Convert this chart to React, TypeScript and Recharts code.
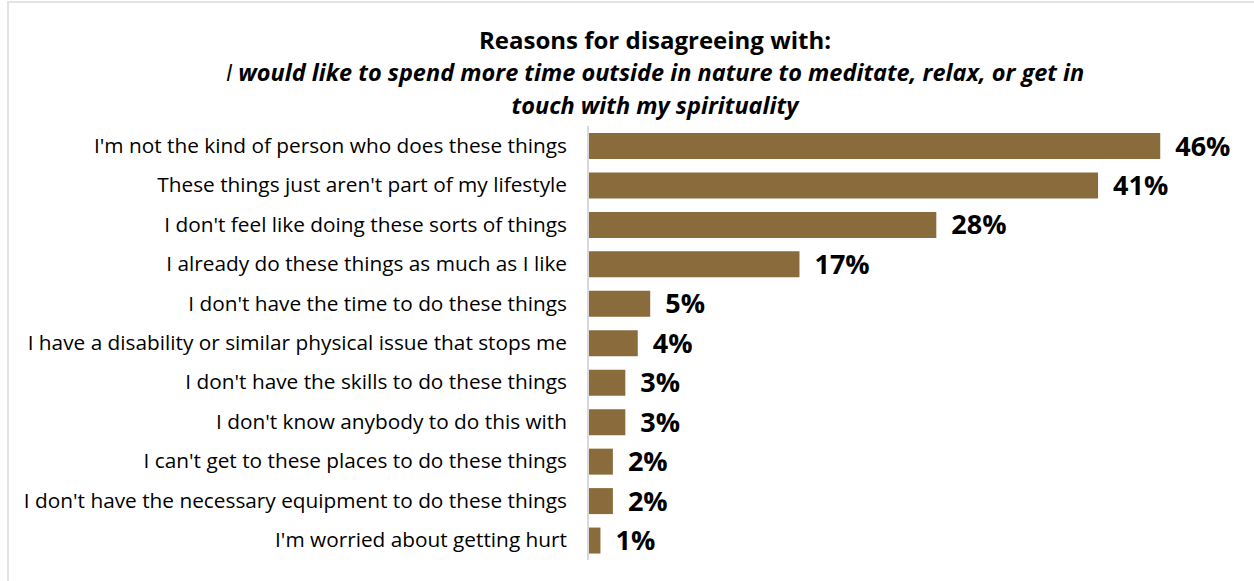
import { BarChart, Bar, XAxis, YAxis, LabelList } from 'recharts';

// Reasons, top to bottom, with % of respondents
const reasons = [
  "I'm not the kind of person who does these things",
  "These things just aren't part of my lifestyle",
  "I don't feel like doing these sorts of things",
  'I already do these things as much as I like',
  "I don't have the time to do these things",
  'I have a disability or similar physical issue that stops me',
  "I don't have the skills to do these things",
  "I don't know anybody to do this with",
  "I can't get to these places to do these things",
  "I don't have the necessary equipment to do these things",
  "I'm worried about getting hurt",
];
const percents = [46, 41, 28, 17, 5, 4, 3, 3, 2, 2, 1];

const data = reasons.map((reason, i) => ({ reason, value: percents[i] }));

const FONT = '"Open Sans", sans-serif';
const BAR_COLOR = '#8A6C3C';

const ReasonTick = (props: any) => {
  const { x, y, payload } = props;
  return (
    <text x={x} y={y} dy={7} textAnchor="end" fontSize={20.8} fill="#000" fontFamily={FONT}>
      {payload.value}
    </text>
  );
};

export default function App() {
  return (
    <div
      style={{
        position: 'absolute',
        left: 0,
        top: 0,
        width: 1254,
        height: 581,
        background: '#fff',
        fontFamily: FONT,
      }}
    >
      <div
        style={{
          position: 'absolute',
          left: 7,
          top: 1,
          right: 0,
          bottom: 0,
          borderLeft: '2px solid #e3e3e3',
          borderTop: '2px solid #e3e3e3',
        }}
      />
      <div
        style={{
          position: 'absolute',
          left: 155,
          width: 1000,
          top: 23,
          textAlign: 'center',
          fontWeight: 700,
          fontSize: 24,
          lineHeight: '33px',
          color: '#000',
        }}
      >
        <div>Reasons for disagreeing with:</div>
        <div style={{ fontStyle: 'italic', fontSize: 23.5 }}>
          <span style={{ fontWeight: 400 }}>I</span> would like to spend more time outside in nature to meditate, relax, or get in
        </div>
        <div style={{ fontStyle: 'italic', fontSize: 23.5 }}>touch with my spirituality</div>
      </div>
      <div style={{ position: 'absolute', left: 0, top: 0 }}>
        <BarChart
          layout="vertical"
          width={1254}
          height={581}
          data={data}
          margin={{ top: 126, right: 44, bottom: 21, left: 0 }}
        >
          <XAxis type="number" domain={[0, 50]} hide />
          <YAxis
            type="category"
            dataKey="reason"
            width={588}
            axisLine={{ stroke: '#d9d9d9', strokeWidth: 2 }}
            tickLine={false}
            tickSize={0}
            tick={<ReasonTick />}
            tickMargin={21}
            interval={0}
          />
          <Bar dataKey="value" fill={BAR_COLOR} barSize={26} isAnimationActive={false}>
            <LabelList
              dataKey="value"
              position="right"
              offset={15}
              formatter={(v: any) => `${v}%`}
              style={{ fontWeight: 700, fontSize: 27, fill: '#000', fontFamily: FONT }}
            />
          </Bar>
        </BarChart>
      </div>
    </div>
  );
}
